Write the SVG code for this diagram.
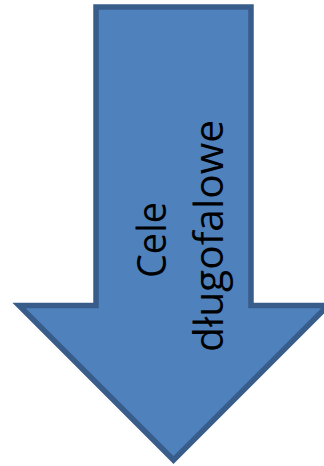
<svg xmlns="http://www.w3.org/2000/svg" width="324" height="466" viewBox="0 0 324 466">
  <style>
    .arrow { fill: #4F81BD; stroke: #385D8A; stroke-width: 5.5; stroke-linejoin: miter; stroke-miterlimit: 10; }
    .label { font-family: "Open Sans", "Liberation Sans", sans-serif; font-size: 41px; fill: #000000; text-anchor: middle; }
  </style>
  <g id="arrow-node">
    <polygon class="arrow" points="96,7 251,7 251,305.5 328,305.5 173.5,460 19,305.5 96,305.5"/>
    <text class="label" transform="translate(166,240) rotate(-90)" textLength="76" lengthAdjust="spacingAndGlyphs">Cele</text>
    <text class="label" transform="translate(223,236) rotate(-90)" textLength="232" lengthAdjust="spacingAndGlyphs">długofalowe</text>
  </g>
  <g id="connectors"></g>
</svg>
